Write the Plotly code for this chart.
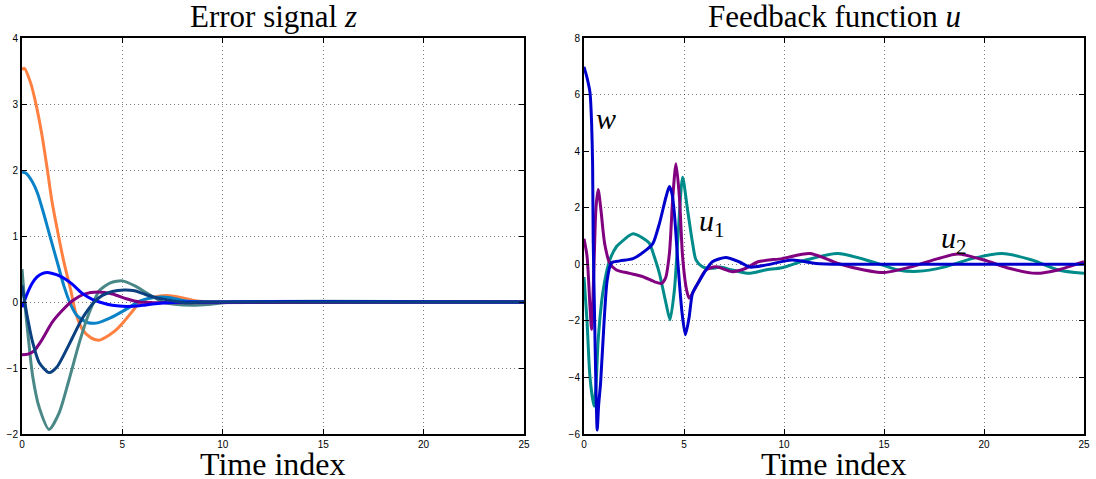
import plotly.graph_objects as go

# ---------------- Left panel: Error signal z ----------------
z_orange_t = [0, 0.12, 0.43, 0.68, 1.0, 1.26, 1.5, 1.8, 2.09, 2.42, 2.67, 3.0, 3.42, 3.83, 4.4, 4.7, 5.07, 5.5, 5.85, 6.5, 7.2, 7.9, 8.7, 9.5, 10.5, 25]
z_orange_y = [3.52, 3.54, 3.32, 3.02, 2.52, 2.01, 1.51, 1.03, 0.6, 0.19, -0.16, -0.41, -0.54, -0.58, -0.49, -0.42, -0.3, -0.14, -0.01, 0.07, 0.1, 0.07, 0.015, 0, 0, 0]

z_lblue_t = [0, 0.2, 0.5, 0.76, 1.09, 1.37, 1.76, 2.09, 2.42, 2.75, 3.25, 3.7, 4.4, 5.07, 5.5, 5.85, 6.5, 7.3, 8.15, 9, 25]
z_lblue_y = [1.97, 1.95, 1.83, 1.66, 1.33, 1.02, 0.6, 0.24, -0.035, -0.21, -0.31, -0.32, -0.24, -0.13, -0.05, 0.015, 0.065, 0.07, 0.015, 0, 0]

z_grey_t = [0, 0.15, 0.3, 0.53, 0.86, 1.35, 1.85, 2.35, 2.85, 3.35, 3.85, 4.4, 5.0, 5.65, 6.3, 7.0, 7.5, 8.5, 9.5, 10.5, 25]
z_grey_y = [0.5, -0.05, -0.5, -1.12, -1.6, -1.93, -1.68, -1.17, -0.62, -0.16, 0.17, 0.29, 0.32, 0.24, 0.12, 0.0, -0.03, -0.05, -0.03, 0, 0]

z_purple_t = [0, 0.3, 0.6, 1.0, 1.5, 2.0, 2.5, 3.1, 3.8, 4.5, 5.2, 5.85, 6.5, 25]
z_purple_y = [-0.8, -0.79, -0.74, -0.57, -0.31, -0.13, 0.015, 0.12, 0.15, 0.12, 0.05, 0.0, -0.01, 0]

z_blue_t = [0, 0.25, 0.5, 0.75, 1.0, 1.35, 1.75, 2.19, 2.5, 3.0, 3.5, 3.85, 4.5, 5.0, 5.5, 6.0, 6.5, 7.0, 8.0, 25]
z_blue_y = [-0.08, 0.12, 0.28, 0.38, 0.43, 0.445, 0.41, 0.34, 0.27, 0.13, 0.04, 0.0, -0.05, -0.065, -0.065, -0.05, -0.03, -0.015, 0, 0]

z_navy_t = [0, 0.25, 0.53, 0.86, 1.35, 1.75, 2.0, 2.5, 3.0, 3.6, 4.0, 4.5, 5.1, 5.6, 6.0, 6.5, 7.1, 8.1, 9, 25]
z_navy_y = [0.25, -0.2, -0.61, -0.92, -1.07, -0.98, -0.85, -0.55, -0.25, 0.0, 0.1, 0.16, 0.18, 0.17, 0.13, 0.08, 0.04, -0.01, 0, 0]

# ---------------- Right panel: Feedback function u ----------------
u1_t = [0, 0.15, 0.3, 0.5, 0.6, 0.71, 0.96, 1.29, 1.62, 1.79, 2.45, 3.1, 3.28, 3.5, 3.77, 4.1, 4.3, 4.52, 4.69, 4.93, 5.18, 5.43, 5.6, 5.93, 6.42, 6.8, 7.4, 8.25, 9.07, 9.9, 11.1, 12.7, 14.4, 15.7, 16.7, 18, 19.4, 20.9, 22.4, 23.7, 25]
u1_y = [-0.45, -2.0, -4.0, -5.02, -4.3, -2.67, -0.91, 0.15, 0.62, 0.74, 1.08, 0.85, 0.73, 0.3, -0.32, -1.38, -1.96, -0.91, 0.85, 3.08, 1.91, 0.74, 0.15, -0.09, -0.14, -0.1, -0.2, -0.32, -0.2, -0.12, 0.15, 0.38, 0.09, -0.2, -0.25, -0.1, 0.2, 0.38, 0.15, -0.2, -0.32]

u2_t = [0, 0.15, 0.3, 0.38, 0.5, 0.6, 0.71, 0.85, 0.95, 1.04, 1.29, 1.62, 2.28, 2.95, 3.53, 3.86, 4.07, 4.27, 4.44, 4.6, 4.77, 4.93, 5.13, 5.26, 5.6, 6.1, 6.6, 7.4, 8.1, 8.7, 9.9, 11.3, 12.7, 14, 15, 16.3, 17.7, 18.7, 20, 21.3, 22.6, 23.7, 25]
u2_y = [0.9, 0.3, -1.5, -2.3, 0.0, 2.0, 2.64, 1.9, 1.2, 0.7, 0.03, -0.2, -0.32, -0.44, -0.62, -0.68, -0.5, 0.38, 2.38, 3.55, 2.38, 0.26, -0.91, -1.2, -0.79, -0.2, -0.09, -0.26, -0.14, 0.09, 0.2, 0.38, 0.03, -0.2, -0.29, -0.1, 0.2, 0.36, 0.15, -0.15, -0.32, -0.2, 0.09]

w_t = [0, 0.15, 0.3, 0.38, 0.43, 0.46, 0.55, 0.6, 0.66, 0.73, 0.83, 1.0, 1.16, 1.37, 1.79, 2.45, 3.1, 3.44, 3.77, 4.1, 4.27, 4.4, 4.52, 4.7, 4.9, 5.07, 5.25, 5.43, 5.76, 6.1, 6.42, 7.09, 7.75, 8.3, 9.07, 10.4, 11.6, 13, 25]
w_y = [6.98, 6.6, 6.07, 5.0, 3.56, 0.85, -2.67, -4.43, -5.86, -5.0, -4.19, -2.08, -0.56, 0.05, 0.12, 0.2, 0.5, 0.73, 1.44, 2.38, 2.75, 2.5, 1.79, 0.0, -1.7, -2.49, -1.9, -1.02, -0.6, -0.2, 0.09, 0.24, 0.09, -0.1, -0.03, 0.15, 0.03, 0, 0]

x_ticks = [0, 5, 10, 15, 20, 25]
z_yticks = [-2, -1, 0, 1, 2, 3, 4]
u_yticks = [-6, -4, -2, 0, 2, 4, 6, 8]

fig = go.Figure()

LW = 3
left_series = [
    (z_orange_t, z_orange_y, "#FF8040"),
    (z_lblue_t, z_lblue_y, "#0A82C8"),
    (z_grey_t, z_grey_y, "#4A8888"),
    (z_purple_t, z_purple_y, "#800080"),
    (z_blue_t, z_blue_y, "#0000FF"),
    (z_navy_t, z_navy_y, "#0A3F80"),
]
for t, y, c in left_series:
    fig.add_trace(go.Scatter(x=t, y=y, mode="lines", xaxis="x", yaxis="y",
                             line=dict(color=c, width=LW, shape="spline", smoothing=0.7),
                             showlegend=False, hoverinfo="skip"))

right_series = [
    (u1_t, u1_y, "#008B8B"),
    (u2_t, u2_y, "#800080"),
    (w_t, w_y, "#0000CC"),
]
for t, y, c in right_series:
    fig.add_trace(go.Scatter(x=t, y=y, mode="lines", xaxis="x2", yaxis="y2",
                             line=dict(color=c, width=LW, shape="spline", smoothing=0.7),
                             showlegend=False, hoverinfo="skip"))

axis_common = dict(
    showline=True, linecolor="black", linewidth=2, mirror="allticks",
    ticks="inside", ticklen=5, tickwidth=1, tickcolor="black",
    showgrid=True, gridcolor="rgba(0,0,0,0.5)", gridwidth=1, griddash="1px,3px",
    zeroline=False, automargin=False,
    tickfont=dict(family="Liberation Sans, Arial", size=10, color="black"),
)

L_DOM = [0, 502 / 1062]
R_DOM = [562 / 1062, 1]

fig.update_layout(
    width=1096, height=479,
    margin=dict(l=22, r=12, t=38, b=45, autoexpand=False),
    paper_bgcolor="white", plot_bgcolor="white",
    xaxis=dict(domain=L_DOM, range=[0, 25], tickvals=x_ticks, anchor="y", **axis_common),
    yaxis=dict(range=[-2, 4], tickvals=z_yticks, anchor="x", **axis_common),
    xaxis2=dict(domain=R_DOM, range=[0, 25], tickvals=x_ticks, anchor="y2", **axis_common),
    yaxis2=dict(range=[-6, 8], tickvals=u_yticks, anchor="x2", **axis_common),
)

serif = "Liberation Serif, Times New Roman, serif"
annots = [
    dict(text="Error signal <i>z</i>", x=sum(L_DOM) / 2, y=1, yshift=22, size=31),
    dict(text="Feedback function <i>u</i>", x=sum(R_DOM) / 2, y=1, yshift=22, size=31),
    dict(text="Time index", x=sum(L_DOM) / 2, y=0, yshift=-30, size=32),
    dict(text="Time index", x=sum(R_DOM) / 2, y=0, yshift=-30, size=32),
]
for a in annots:
    fig.add_annotation(text=a["text"], x=a["x"], y=a["y"], xref="paper", yref="paper",
                       xanchor="center", yanchor="middle", yshift=a["yshift"], showarrow=False,
                       font=dict(family=serif, size=a["size"], color="black"))

labels = [("<i>w</i>", 1.1, 5.15), ("<i>u</i><sub>1</sub>", 6.4, 1.45), ("<i>u</i><sub>2</sub>", 18.5, 0.85)]
for txt, lx, ly in labels:
    fig.add_annotation(text=txt, x=lx, y=ly, xref="x2", yref="y2", showarrow=False,
                       xanchor="center", yanchor="middle",
                       font=dict(family=serif, size=30, color="black"))

fig.write_html("out.html", config={"displayModeBar": False},
               post_script="document.body.style.margin='0px';document.body.style.overflow='hidden';")
